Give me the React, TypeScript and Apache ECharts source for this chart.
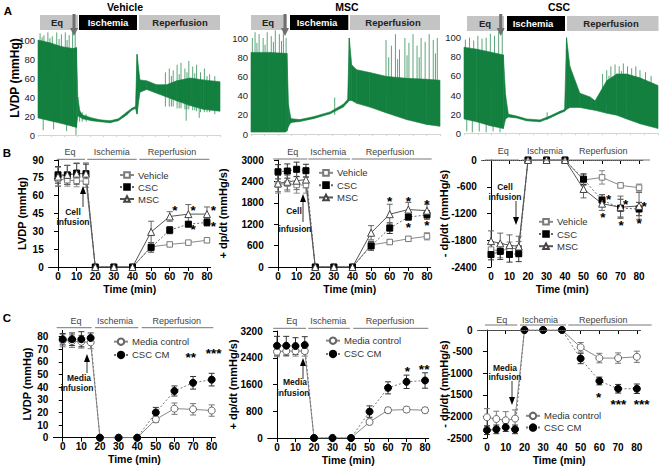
import React, { useEffect, useRef } from "react";
import * as echarts from "echarts";

const FONT = "'Liberation Sans', Arial, Helvetica, sans-serif";
const GREEN = "#13803f";

// ---------------- Panel A: LVDP traces (envelope of the raw signal) ----------------
// x = minutes of recording (hidden axis 0..70), low/high = trace envelope in mmHg
const vehTraceT = [0, 4.6, 9.2, 13.5, 14.8, 15.3, 16.1, 17.2, 20.7, 23.8, 27.7, 30.9, 34.1, 36.0, 37.5, 38.1, 39.2, 41.8, 45.6, 49.5, 53.3, 58.5, 63.6, 70];
const vehTraceLow = [18, 15, 12, 9, 8, 20, 19, 17, 15, 14, 13, 15, 21, 26, 28, 22, 45, 48, 44, 40, 36, 31, 27, 25];
const vehTraceHigh = [100, 97, 93, 91, 92, 40, 25, 21, 18, 16, 15, 17, 24, 28, 30, 85, 58, 57, 53, 53, 57, 60, 58, 56];
const vehSpikes = [
  [0.8, 60, 107], [1.6, 60, 103], [2.3, 60, 105], [3.8, 60, 108], [4.6, 60, 102], [5.5, 60, 104], [7.2, 60, 108], [8.1, 60, 101], [9, 60, 106], [10.5, 60, 108], [11.2, 60, 100], [12, 60, 105], [13.3, 60, 108], [14.3, 60, 110],
  [2, 5, 30], [6, 6, 30], [11, 4, 30], [14.6, 0, 20],
  [16, 14, 26], [17, 14, 24], [18.5, 14, 22],
  [49, 30, 66], [50.5, 30, 70], [51.3, 30, 62], [52, 30, 68], [53.5, 28, 74], [54.3, 28, 64], [55, 28, 76], [56.5, 27, 70], [57.3, 27, 66], [58, 27, 78], [59.5, 26, 72], [60.3, 26, 65], [61, 25, 74], [62.5, 24, 66], [64, 24, 70], [65, 24, 62], [66, 24, 64], [68, 22, 62],
  [57, 15, 40], [62, 18, 40],
];

const mscTraceT = [0, 7, 12.6, 13.3, 13.9, 14.8, 18.1, 23.1, 29.3, 34.2, 35.8, 36.4, 37.3, 39.1, 44, 50.2, 57.6, 65, 70];
const mscTraceLow = [2, 2, 2, 3, 8, 12, 13, 16, 21, 28, 33, 35, 35, 32, 28, 22, 15, 10, 8];
const mscTraceHigh = [85, 85, 84, 84, 30, 16, 15, 18, 23, 31, 36, 100, 72, 67, 64, 60, 58, 57, 56];
const mscSpikes = [
  [0.5, 50, 100], [1.5, 50, 106], [2.2, 50, 95], [3, 50, 104], [4.5, 50, 100], [5.2, 50, 93], [6, 50, 106], [7.5, 50, 102], [8.3, 50, 96], [9, 50, 108], [10.5, 50, 104], [11.3, 50, 97], [12, 50, 106], [13, 50, 100],
  [31, 20, 38],
  [50, 40, 98], [51, 40, 80], [52, 40, 92], [53.5, 40, 104], [54.3, 40, 78], [55, 40, 88], [57, 40, 100], [57.8, 40, 82], [58.5, 40, 95], [60, 40, 104], [61.5, 40, 92], [62.3, 40, 80], [63, 40, 100], [64.5, 40, 96], [66, 40, 104], [67.5, 40, 98], [68.3, 40, 84], [69, 40, 100],
];

const cscTraceT = [0, 4.6, 9.4, 14.2, 15.0, 16.0, 19.0, 22.6, 27.4, 31.0, 34.6, 36.3, 37.0, 38.2, 41.8, 45.5, 47.3, 51.5, 55.1, 58.7, 63.5, 70];
const cscTraceLow = [15, 12, 8, 5, 15, 17, 16, 13, 12, 16, 21, 23, 25, 27, 27, 25, 24, 21, 19, 15, 10, 5];
const cscTraceHigh = [90, 88, 85, 82, 40, 20, 18, 15, 14, 18, 23, 25, 100, 70, 42, 38, 34, 55, 62, 62, 58, 50];
const cscSpikes = [
  [0.5, 50, 98], [2, 50, 100], [3.5, 50, 97], [5, 50, 102], [6.5, 50, 99], [8, 50, 100], [9.5, 50, 104], [11, 50, 102], [12.5, 50, 106], [13.8, 50, 108],
  [1, 2, 20], [3, 1, 20], [5.5, 2, 20], [8, 1, 15], [10.5, 2, 15], [13, 1, 12],
  [30, 14, 22],
  [50, 30, 62], [51.5, 30, 66], [52.3, 30, 60], [53, 30, 70], [54.5, 30, 72], [56, 30, 70], [56.8, 30, 65], [57.5, 30, 73], [59, 30, 70], [60.5, 30, 68], [62, 30, 70], [63.5, 30, 66], [65.5, 30, 64], [67.5, 30, 60],
];

// ---------------- Panels B & C: group means ± SEM ----------------
const timePoints = [0, 5, 10, 15, 20, 30, 40, 50, 60, 70, 80];
const timeTicks = [0, 10, 20, 30, 40, 50, 60, 70, 80];

// B - LVDP (mmHg)
const bLvdpVehicle = [74, 73, 72.5, 72, 0, 0, 0, 17, 19, 20.5, 22.5];
const bLvdpVehicleSem = [6, 5, 5, 5, 0, 0, 0, 2, 1.5, 1.5, 2];
const bLvdpCSC = [77.5, 77.5, 79, 78.5, 0, 0, 0, 16.5, 31, 36, 37.5];
const bLvdpCSCSem = [7, 8, 8, 8, 0, 0, 0, 4, 3, 2, 3];
const bLvdpMSC = [76, 77.5, 78.5, 78.5, 0, 0, 0, 29.5, 42.5, 44.5, 44.5];
const bLvdpMSCSem = [8, 8, 9, 9, 0, 0, 0, 9, 4, 8, 6];
const bLvdpStars = [[62.8, 49.9, "*"], [72.6, 49.9, "*"], [83.4, 50.2, "*"], [72.6, 33.9, "*"], [83.4, 36.8, "*"]];

// B - +dp/dt (mmHg/s)
const bDpVehicle = [2320, 2340, 2300, 2300, 0, 0, 0, 620, 700, 790, 860];
const bDpVehicleSem = [250, 230, 230, 230, 0, 0, 0, 100, 60, 60, 100];
const bDpCSC = [2670, 2690, 2740, 2700, 0, 0, 0, 590, 1090, 1400, 1460];
const bDpCSCSem = [200, 200, 200, 180, 0, 0, 0, 120, 150, 80, 120];
const bDpMSC = [2340, 2390, 2420, 2450, 0, 0, 0, 960, 1480, 1610, 1580];
const bDpMSCSem = [230, 230, 250, 230, 0, 0, 0, 200, 280, 200, 180];
const bDpStars = [[60, 1926, "*"], [70, 1926, "*"], [80, 1850, "*"], [70, 1178, "*"], [80, 1253, "*"]];

// B - -dp/dt (mmHg/s)
const bNdpVehicle = [-2010, -2040, -1990, -1980, 0, 0, 0, -450, -390, -570, -620];
const bNdpVehicleSem = [150, 150, 150, 150, 0, 0, 0, 120, 150, 50, 80];
const bNdpCSC = [-2120, -2050, -2120, -2100, 0, 0, 0, -430, -900, -1080, -1100];
const bNdpCSCSem = [120, 180, 170, 180, 0, 0, 0, 120, 120, 200, 150];
const bNdpMSC = [-1820, -1870, -1910, -1940, 0, 0, 0, -650, -980, -1060, -1030];
const bNdpMSCSem = [230, 230, 230, 230, 0, 0, 0, 200, 150, 250, 300];
const bNdpStars = [[63.5, -823, "*"], [60.4, -1219, "*"], [72.8, -935, "*"], [70.3, -1398, "*"], [82.7, -972, "*"], [80, -1368, "*"]];

// C - LVDP (mmHg)
const cLvdpMedia = [77, 76.5, 76, 75.5, 0, 0, 0, 14.5, 23, 22.5, 21.5];
const cLvdpMediaSem = [5, 5, 5, 5, 0, 0, 0, 2.5, 4.5, 4.5, 4.5];
const cLvdpCM = [78, 78, 78, 79, 0, 0, 0, 20, 37, 43.5, 46];
const cLvdpCMSem = [4.5, 5, 6, 4, 0, 0, 0, 4, 4, 5, 5];
const cLvdpStars = [[68.7, 65.7, "**"], [81, 68.7, "***"]];

// C - +dp/dt (mmHg/s)
const cDpMedia = [2580, 2600, 2600, 2600, 0, 0, 0, 480, 830, 850, 830];
const cDpMediaSem = [150, 150, 150, 150, 0, 0, 0, 80, 80, 80, 80];
const cDpCM = [2760, 2760, 2750, 2780, 0, 0, 0, 790, 1500, 1680, 1720];
const cDpCMSem = [280, 280, 250, 250, 0, 0, 0, 170, 180, 200, 230];
const cDpStars = [[70.5, 2084, "*"], [79.5, 2133, "**"]];

// C - -dp/dt (mmHg/s)
const cNdpMedia = [-2020, -2060, -2090, -2050, 0, 0, 0, -400, -650, -650, -620];
const cNdpMediaSem = [200, 180, 200, 200, 0, 0, 0, 110, 110, 120, 130];
const cNdpCM = [-2320, -2300, -2250, -2300, 0, 0, 0, -660, -1180, -1360, -1360];
const cNdpCMSem = [100, 100, 100, 100, 0, 0, 0, 120, 90, 100, 110];
const cNdpStars = [[59.6, -1489, "*"], [70.2, -1659, "***"], [82.5, -1659, "***"]];

// ---------------- styles ----------------
const STY: any = {
  Vehicle: { symbol: "rect", size: 5.5, fill: "#fff", stroke: "#7a7a7a", line: "#8a8a8a", type: "solid", err: "#8a8a8a" },
  CSC: { symbol: "rect", size: 6, fill: "#000", stroke: "#000", line: "#666", type: [2, 2], err: "#333" },
  MSC: { symbol: "triangle", size: 7, fill: "#fff", stroke: "#444", line: "#555", type: "solid", err: "#666" },
  "Media control": { symbol: "circle", size: 7, fill: "#fff", stroke: "#666", line: "#888", type: "solid", err: "#777" },
  "CSC CM": { symbol: "circle", size: 7, fill: "#000", stroke: "#000", line: "#777", type: [2, 2], err: "#333" },
};

function groupSeries(g: number, name: string, vals: number[], sem: number[], extra?: any) {
  const s = STY[name];
  const errData = timePoints
    .map((t, i) => [t, vals[i] - sem[i], vals[i] + sem[i], sem[i]])
    .filter((d) => d[3] > 0)
    .map((d) => [d[0], d[1], d[2]]);
  const err = {
    type: "custom",
    xAxisIndex: g,
    yAxisIndex: g,
    silent: true,
    z: 2,
    dimensions: ["x", "lo", "hi"],
    encode: { x: 0, y: [1, 2] },
    data: errData,
    renderItem: (params: any, api: any) => {
      const x = api.value(0);
      const a = api.coord([x, api.value(1)]);
      const b = api.coord([x, api.value(2)]);
      const w = 3;
      const st = { stroke: s.err, lineWidth: 1 };
      return {
        type: "group",
        children: [
          { type: "line", shape: { x1: a[0], y1: a[1], x2: b[0], y2: b[1] }, style: st },
          { type: "line", shape: { x1: a[0] - w, y1: a[1], x2: a[0] + w, y2: a[1] }, style: st },
          { type: "line", shape: { x1: b[0] - w, y1: b[1], x2: b[0] + w, y2: b[1] }, style: st },
        ],
      };
    },
  };
  const line: any = {
    type: "line",
    name,
    xAxisIndex: g,
    yAxisIndex: g,
    silent: true,
    z: 3,
    data: timePoints.map((t, i) => [t, vals[i]]),
    symbol: s.symbol,
    symbolSize: s.size,
    showAllSymbol: true,
    itemStyle: { color: s.fill, borderColor: s.stroke, borderWidth: 1 },
    lineStyle: { color: s.line, width: 1, type: s.type },
    ...(extra || {}),
  };
  return [err, line];
}

function starSeries(g: number, stars: any[]) {
  return {
    type: "custom",
    xAxisIndex: g,
    yAxisIndex: g,
    silent: true,
    z: 5,
    dimensions: ["x", "y"],
    encode: { x: 0, y: 1 },
    data: stars.map((s) => [s[0], s[1]]),
    renderItem: (params: any, api: any) => {
      const p = api.coord([api.value(0), api.value(1)]);
      return {
        type: "text",
        x: p[0],
        y: p[1] + 3,
        style: { text: stars[params.dataIndex][2], fontFamily: FONT, fontSize: 13.5, lineHeight: 12, fontWeight: "bold", fill: "#000", align: "center", verticalAlign: "middle" },
      };
    },
  };
}

function traceSeries(g: number, t: number[], lo: number[], hi: number[], spikes: number[][]) {
  const segs: number[][] = [];
  for (let i = 0; i < t.length - 1; i++) segs.push([t[i], lo[i], hi[i], t[i + 1], lo[i + 1], hi[i + 1]]);
  return [
    {
      type: "custom",
      xAxisIndex: g,
      yAxisIndex: g,
      silent: true,
      z: 2,
      dimensions: ["t0", "l0", "h0", "t1", "l1", "h1"],
      encode: { x: [0, 3], y: [1, 2, 4, 5] },
      data: segs,
      renderItem: (params: any, api: any) => {
        const a = api.coord([api.value(0), api.value(1)]);
        const b = api.coord([api.value(0), api.value(2)]);
        const c = api.coord([api.value(3), api.value(5)]);
        const d = api.coord([api.value(3), api.value(4)]);
        return { type: "polygon", shape: { points: [a, b, c, d] }, style: { fill: GREEN, stroke: GREEN, lineWidth: 0.6 } };
      },
    },
    {
      type: "custom",
      xAxisIndex: g,
      yAxisIndex: g,
      silent: true,
      z: 2,
      dimensions: ["t", "lo", "hi"],
      encode: { x: 0, y: [1, 2] },
      data: spikes,
      renderItem: (params: any, api: any) => {
        const a = api.coord([api.value(0), api.value(1)]);
        const b = api.coord([api.value(0), api.value(2)]);
        return { type: "line", shape: { x1: a[0], y1: a[1], x2: b[0], y2: b[1] }, style: { stroke: GREEN, lineWidth: 0.7 } };
      },
    },
  ];
}

// ---------------- axes helpers ----------------
const tickLabel = { fontFamily: FONT, fontSize: 10, fontWeight: "bold", color: "#000", formatter: (v: number) => String(v) };
const nameStyle = { fontFamily: FONT, fontSize: 10.5, fontWeight: "bold", color: "#000" };

function timeAxis(g: number) {
  return {
    gridIndex: g,
    type: "value",
    min: -5,
    max: 82,
    axisLine: { show: true, lineStyle: { color: "#000", width: 1 } },
    axisTick: { show: true, length: 4, customValues: timeTicks, lineStyle: { color: "#000" } },
    axisLabel: { ...tickLabel, margin: 4, customValues: timeTicks },
    splitLine: { show: false },
    name: "Time (min)",
    nameLocation: "middle",
    nameGap: 16,
    nameMoveOverlap: false,
    nameTextStyle: nameStyle,
  };
}

function valueAxis(g: number, min: number, max: number, ticks: number[], name: string, nameGap: number) {
  return {
    gridIndex: g,
    type: "value",
    min,
    max,
    axisLine: { show: true, lineStyle: { color: "#000", width: 1 } },
    axisTick: { show: true, length: 4, customValues: ticks, lineStyle: { color: "#000" } },
    axisLabel: { ...tickLabel, margin: 5, customValues: ticks },
    splitLine: { show: false },
    name,
    nameLocation: "middle",
    nameGap,
    nameMoveOverlap: false,
    nameTextStyle: { ...nameStyle, fontSize: 11 },
  };
}

function range(a: number, b: number, step: number) {
  const out: number[] = [];
  for (let v = a; v <= b + 1e-9; v += step) out.push(v);
  return out;
}

function traceX(g: number) {
  return {
    gridIndex: g,
    type: "value",
    min: 0,
    max: 70,
    interval: 5,
    axisLine: { show: true, lineStyle: { color: "#d4d4d4" } },
    axisTick: { show: true, length: 2, lineStyle: { color: "#d4d4d4" } },
    axisLabel: { show: false },
    splitLine: { show: false },
  };
}
function traceY(g: number) {
  return {
    gridIndex: g,
    type: "value",
    min: 0,
    max: 110,
    interval: 20,
    axisLine: { show: false },
    axisTick: { show: false },
    axisLabel: { fontFamily: FONT, fontSize: 9.5, color: "#222", margin: 3, formatter: (v: number) => (v > 100 ? "" : String(v)) },
    splitLine: { show: false },
  };
}

// ---------------- graphic annotations ----------------
function txt(x: number, y: number, text: string, size: number, weight: string, fill: string, extra?: any) {
  return {
    type: "text",
    x,
    y,
    silent: true,
    z: 100,
    style: { text, fontFamily: FONT, fontSize: size, fontWeight: weight, fill, align: "center", verticalAlign: "middle" },
    ...(extra || {}),
  };
}
function rect(x: number, y: number, w: number, h: number, fill: string) {
  return { type: "rect", silent: true, z: 90, shape: { x, y, width: w, height: h }, style: { fill } };
}
function seg(x1: number, y1: number, x2: number, y2: number, stroke: string, lw: number) {
  return { type: "line", silent: true, z: 95, shape: { x1, y1, x2, y2 }, style: { stroke, lineWidth: lw } };
}
function tri(points: number[][], fill: string) {
  return { type: "polygon", silent: true, z: 96, shape: { points }, style: { fill } };
}

function buildGraphics() {
  const g: any[] = [];
  // panel letters
  g.push(txt(8, 11, "A", 11.5, "bold", "#000"));
  g.push(txt(7, 153, "B", 11.5, "bold", "#000"));
  g.push(txt(7, 318, "C", 11.5, "bold", "#000"));
  // A titles
  g.push(txt(125, 7, "Vehicle", 10.5, "bold", "#000"));
  g.push(txt(347, 7, "MSC", 10.5, "bold", "#000"));
  g.push(txt(559, 7, "CSC", 10.5, "bold", "#000"));
  // A y-name
  g.push(txt(15, 78, "LVDP (mmHg)", 12, "bold", "#000", { rotation: Math.PI / 2 }));
  // A header bars
  const headA = [
    { eq: [40, 38], is: [79, 58], re: [139, 81], y: 15, t: [57, 108, 180], arrow: 74 },
    { eq: [251, 35.7], is: [290, 58.3], re: [350, 90], y: 15, t: [268, 317, 393], arrow: 285 },
    { eq: [467, 37], is: [507, 58], re: [567, 91.5], y: 16, t: [485, 533, 611], arrow: 500.7 },
  ];
  headA.forEach((h) => {
    g.push(rect(h.eq[0], h.y, h.eq[1], 15, "#c4c4c4"));
    g.push(rect(h.is[0], h.y, h.is[1], 15, "#000"));
    g.push(rect(h.re[0], h.y, h.re[1], 15, "#c4c4c4"));
    g.push(txt(h.t[0], h.y + 7.5, "Eq", 9.5, "bold", "#222"));
    g.push(txt(h.t[1], h.y + 7.5, "Ischemia", 9.5, "bold", "#fff"));
    g.push(txt(h.t[2], h.y + 7.5, "Reperfusion", 9.5, "bold", "#222"));
    g.push({ ...seg(h.arrow, 14, h.arrow, 29, "#6f6f6f", 3), z: 110 });
    g.push({ ...tri([[h.arrow - 4, 28], [h.arrow + 4, 28], [h.arrow, 36]], "#6f6f6f"), z: 110 });
  });
  // B/C bracket headers
  const brackets = [
    { y: 159.3, ty: 152, eq: [56.7, 85, 70], is: [87.3, 136.7, 111.7], re: [139.3, 209.3, 172] },
    { y: 159, ty: 152, eq: [273.3, 307.3, 292.7], is: [308.3, 350, 328.3], re: [351.7, 431.7, 390] },
    { y: 160, ty: 150.5, eq: [485, 519, 503.3], is: [521.7, 566.7, 545], re: [568.3, 650, 603.3] },
    { y: 327.7, ty: 321, eq: [56.7, 91.7, 76], is: [95, 138.3, 115], re: [141.7, 213.3, 176.7] },
    { y: 328.3, ty: 321, eq: [273.3, 306, 291.7], is: [308.3, 350, 328.3], re: [353.3, 428.3, 390] },
    { y: 325, ty: 319.5, eq: [485, 517.3, 501.7], is: [520, 566, 540], re: [568.3, 651.7, 603.3] },
  ];
  brackets.forEach((b) => {
    ([["Eq", b.eq], ["Ischemia", b.is], ["Reperfusion", b.re]] as any[]).forEach(([label, p]) => {
      g.push(seg(p[0], b.y, p[1], b.y, "#777", 1));
      g.push(txt(p[2], b.ty, label, 9, "normal", "#444"));
    });
  });
  // infusion arrows
  const up = (x: number, tip: number, end: number) => {
    g.push(tri([[x, tip], [x - 3, tip + 8], [x + 3, tip + 8]], "#000"));
    g.push(seg(x, tip + 7, x, end, "#333", 1));
  };
  const down = (x: number, start: number, tip: number) => {
    g.push(seg(x, start, x, tip - 7, "#333", 1));
    g.push(tri([[x, tip], [x - 3, tip - 8], [x + 3, tip - 8]], "#000"));
  };
  up(83, 186, 207);
  g.push(txt(73, 211.7, "Cell", 8.5, "bold", "#111"));
  g.push(txt(73, 221.5, "infusion", 8.5, "bold", "#111"));
  up(303, 194, 222);
  g.push(txt(294, 211, "Cell", 8.5, "bold", "#111"));
  g.push(txt(295, 229, "infusion", 8.5, "bold", "#111"));
  down(516, 201, 225);
  g.push(txt(505, 186.7, "Cell", 8.5, "bold", "#111"));
  g.push(txt(505, 196.7, "infusion", 8.5, "bold", "#111"));
  up(87, 354, 373);
  g.push(txt(79, 377.7, "Media", 8.5, "bold", "#111"));
  g.push(txt(77, 387.7, "infusion", 8.5, "bold", "#111"));
  up(303, 358, 379);
  g.push(txt(295, 382.3, "Media", 8.5, "bold", "#111"));
  g.push(txt(293, 392.7, "infusion", 8.5, "bold", "#111"));
  down(512, 381, 405);
  g.push(txt(505, 367.7, "Media", 8.5, "bold", "#111"));
  g.push(txt(505, 377, "infusion", 8.5, "bold", "#111"));
  return g;
}

function legend(names: string[], left: number, top: number, itemHeight: number, lineHeight: number) {
  return {
    data: names,
    left,
    top,
    orient: "vertical",
    itemWidth: 14,
    itemHeight,
    itemGap: 0,
    padding: 0,
    selectedMode: false,
    textStyle: { fontFamily: FONT, fontSize: 9.5, color: "#333", lineHeight, padding: [0, 0, 0, -1] },
  };
}

function buildOption() {
  const zeroLine = {
    markLine: {
      silent: true,
      symbol: ["none", "none"],
      label: { show: false },
      lineStyle: { type: "dotted", color: "#999", width: 1 },
      data: [{ yAxis: 0 }],
    },
  };
  const series: any[] = [
    ...traceSeries(0, vehTraceT, vehTraceLow, vehTraceHigh, vehSpikes),
    ...traceSeries(1, mscTraceT, mscTraceLow, mscTraceHigh, mscSpikes),
    ...traceSeries(2, cscTraceT, cscTraceLow, cscTraceHigh, cscSpikes),
    // B1
    ...groupSeries(3, "Vehicle", bLvdpVehicle, bLvdpVehicleSem),
    ...groupSeries(3, "CSC", bLvdpCSC, bLvdpCSCSem),
    ...groupSeries(3, "MSC", bLvdpMSC, bLvdpMSCSem),
    starSeries(3, bLvdpStars),
    // B2
    ...groupSeries(4, "Vehicle", bDpVehicle, bDpVehicleSem),
    ...groupSeries(4, "CSC", bDpCSC, bDpCSCSem),
    ...groupSeries(4, "MSC", bDpMSC, bDpMSCSem),
    starSeries(4, bDpStars),
    // B3
    ...groupSeries(5, "Vehicle", bNdpVehicle, bNdpVehicleSem, zeroLine),
    ...groupSeries(5, "CSC", bNdpCSC, bNdpCSCSem),
    ...groupSeries(5, "MSC", bNdpMSC, bNdpMSCSem),
    starSeries(5, bNdpStars),
    // C1
    ...groupSeries(6, "Media control", cLvdpMedia, cLvdpMediaSem),
    ...groupSeries(6, "CSC CM", cLvdpCM, cLvdpCMSem),
    starSeries(6, cLvdpStars),
    // C2
    ...groupSeries(7, "Media control", cDpMedia, cDpMediaSem),
    ...groupSeries(7, "CSC CM", cDpCM, cDpCMSem),
    starSeries(7, cDpStars),
    // C3
    ...groupSeries(8, "Media control", cNdpMedia, cNdpMediaSem, zeroLine),
    ...groupSeries(8, "CSC CM", cNdpCM, cNdpCMSem),
    starSeries(8, cNdpStars),
  ];

  return {
    animation: false,
    backgroundColor: "#fff",
    textStyle: { fontFamily: FONT },
    grid: [
      { left: 38, top: 30.5, width: 182, height: 104.5 },
      { left: 251, top: 28.4, width: 189, height: 105.6 },
      { left: 464, top: 28.1, width: 194, height: 105.2 },
      { left: 48.7, top: 160, width: 162, height: 107 },
      { left: 268.7, top: 160, width: 162, height: 107 },
      { left: 481.75, top: 160, width: 161, height: 107 },
      { left: 53.4, top: 330.4, width: 162, height: 107.3 },
      { left: 267.75, top: 331, width: 161, height: 107 },
      { left: 477.6, top: 330, width: 163, height: 108 },
    ],
    xAxis: [traceX(0), traceX(1), traceX(2), timeAxis(3), timeAxis(4), timeAxis(5), timeAxis(6), timeAxis(7), timeAxis(8)],
    yAxis: [
      traceY(0),
      traceY(1),
      traceY(2),
      valueAxis(3, 0, 90, range(0, 90, 15), "LVDP (mmHg)", 21.7),
      valueAxis(4, 0, 3000, range(0, 3000, 600), "+ dp/dt (mmHg/s)", 40.7),
      valueAxis(5, -2400, 0, range(-2400, 0, 600), "- dp/dt (mmHg/s)", 32.75),
      valueAxis(6, 0, 85, range(0, 80, 10), "LVDP (mmHg)", 21.4),
      valueAxis(7, 0, 3200, range(0, 3200, 800), "+ dp/dt (mmHg/s)", 29.75),
      valueAxis(8, -2500, 0, range(-2500, 0, 500), "- dp/dt (mmHg/s)", 28.6),
    ],
    legend: [
      legend(["Vehicle", "CSC", "MSC"], 119, 169, 7, 12),
      legend(["Vehicle", "CSC", "MSC"], 318, 166.7, 7, 12.3),
      legend(["Vehicle", "CSC", "MSC"], 538, 215.7, 7, 12.2),
      legend(["Media control", "CSC CM"], 113, 335, 8, 13.3),
      legend(["Media control", "CSC CM"], 325, 334, 8, 13.3),
      legend(["Media control", "CSC CM"], 525, 410, 8, 11.7),
    ],
    graphic: { elements: buildGraphics() },
    series,
  };
}

export default function App() {
  const ref = useRef<HTMLDivElement>(null);
  useEffect(() => {
    const chart = echarts.init(ref.current as HTMLDivElement, null, { renderer: "svg" });
    chart.setOption(buildOption() as any);
    return () => chart.dispose();
  }, []);
  return <div ref={ref} style={{ position: "absolute", left: 0, top: 0, width: 662, height: 469, background: "#fff" }} />;
}
